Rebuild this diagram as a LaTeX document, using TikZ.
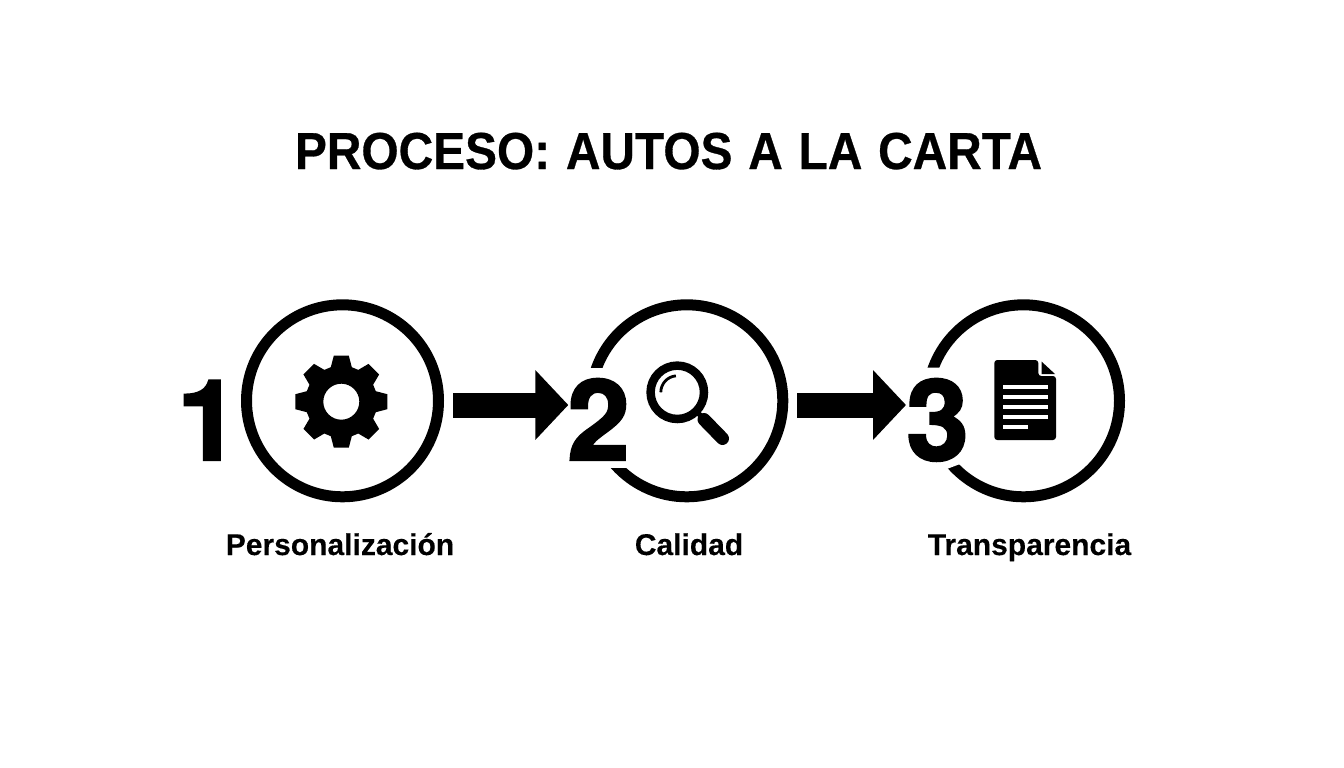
\documentclass[tikz,border=0pt]{standalone}
\usepackage{fontspec}
\usetikzlibrary{arrows.meta}
\setmainfont{Liberation Sans}
\newfontfamily\heavyface[FakeBold=2.2]{TeX Gyre Heros Bold}
\newfontfamily\titleface[FakeBold=0.6]{Liberation Sans Bold}
\newfontfamily\labelface[FakeBold=0.25]{Liberation Sans Bold}
\tikzset{
  ringnode/.style={circle,draw=black,line width=11pt,minimum size=192pt,inner sep=0pt},
  flow/.style={line width=25pt,-{Triangle[width=68pt,length=33pt]},black},
  titletext/.style={inner sep=0pt,outer sep=0pt,anchor=base,font=\fontsize{52}{60}\selectfont\titleface},
  steplabel/.style={inner sep=0pt,outer sep=0pt,anchor=base,font=\fontsize{30}{36}\selectfont\labelface},
  numeral/.style={inner sep=0pt,outer sep=0pt,anchor=base,font=\fontsize{112}{120}\selectfont\heavyface},
  cutout/.style={fill=white,draw=none},
}
\begin{document}
\begin{tikzpicture}[x=1pt,y=-1pt]
\useasboundingbox (0,0) rectangle (1344,768);
\fill[white] (0,0) rectangle (1344,768);
\node[titletext] (title) at (668.5,169) {\scalebox{.92}[1]{PROCESO: \hspace{2.7pt}AUTOS \hspace{2.7pt}A \hspace{2.7pt}LA \hspace{2.7pt}CARTA}};
% rings
\node[ringnode] (c1) at (342.5,400.8) {};
\node[ringnode] (c2) at (686.8,400.8) {};
\node[ringnode] (c3) at (1023.5,400.8) {};
\fill[cutout] (572,367.7) rectangle (632,468.3);
\fill[cutout] (915,367.7) -- (962,367.7) -- (962,463.3) -- (946,469.3) -- (915,469.3) -- cycle;
% arrows
\draw[flow,shorten <=9pt,shorten >=17pt] ([yshift=-4.2pt]c1.east) -- ([yshift=-4.2pt]c2.west);
\draw[flow,shorten <=9pt,shorten >=16pt] ([yshift=-4.2pt]c2.east) -- ([yshift=-4.2pt]c3.west);
% numerals
\node[numeral] (n1) at (208.5,460) {1};
\node[numeral] (n2) at (598.5,460) {2};
\node[numeral] (n3) at (937.5,460) {3};
% gear
\begin{scope}[shift={(341.3,401.7)}]
\fill[black,even odd rule]
  ([rotate=0]34.5,-10.5) -- ([rotate=0]46,-7.5) -- ([rotate=0]46,7.5) -- ([rotate=0]34.5,10.5)
  \foreach \a in {-45,-90,-135,-180,-225,-270,-315} {
    -- ([rotate=\a]34.5,-10.5) -- ([rotate=\a]46,-7.5) -- ([rotate=\a]46,7.5) -- ([rotate=\a]34.5,10.5)
  } -- cycle
  (0,0) circle (18);
\end{scope}
% magnifier
\draw[black,line width=8.5pt] (677.3,392.3) circle (26.7);
\draw[black,line width=5pt] (698,413) -- (706,421);
\draw[black,line width=13pt,line cap=round] (704,419.5) -- (722.5,438.5);
\draw[black,line width=2.8pt] (677.3,392.3) ++(-16.5,0) arc[start angle=180,end angle=265,radius=16.5];
% document
\fill[black,rounded corners=3pt] (994.3,360) -- (1038.3,360) -- (1038.3,376) -- (1056,376) -- (1056,440) -- (994.3,440) -- cycle;
\fill[black] (1041.7,361.7) -- (1055,374) -- (1041.7,374) -- cycle;
\foreach \yy in {386.7,396.7,406.7,417} \fill[white] (1003.3,\yy-2.2) rectangle (1047.7,\yy+2.2);
\fill[white] (1003.3,424.8) rectangle (1028.3,429.2);
% labels
\node[steplabel] (l1) at (340,555) {Personalización};
\node[steplabel] (l2) at (689,555) {Calidad};
\node[steplabel] (l3) at (1029.5,555) {Transparencia};
\end{tikzpicture}
\end{document}
